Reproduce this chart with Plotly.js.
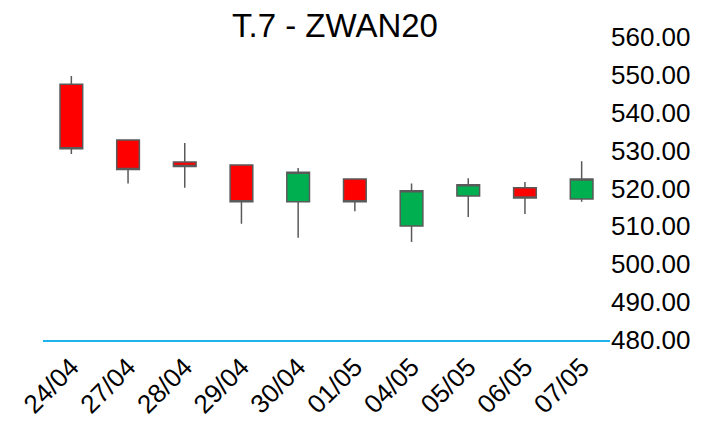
<!DOCTYPE html>
<html>
<head>
<meta charset="utf-8">
<script src="https://cdn.plot.ly/plotly-3.0.1.min.js"></script>
<style>html,body{margin:0;padding:0;background:#fff;}#chart{width:703px;height:422px;}</style>
</head>
<body>
<div id="chart"></div>
<script>
const dates = ["24/04","27/04","28/04","29/04","30/04","01/05","04/05","05/05","06/05","07/05"];
const openVals  = [547.5, 532.8, 527.0, 526.2, 516.5, 522.5, 510.1, 518.0, 520.2, 517.2];
const highVals  = [549.7, 533.0, 532.0, 526.4, 525.4, 522.7, 521.3, 522.7, 521.7, 527.2];
const lowVals   = [529.1, 521.3, 520.2, 510.7, 507.0, 514.0, 505.9, 512.5, 513.3, 516.5];
const closeVals = [530.5, 525.0, 525.8, 516.5, 524.3, 516.5, 519.4, 521.0, 517.5, 522.5];
const yTicks = [480, 490, 500, 510, 520, 530, 540, 550, 560];

const tickFont = {family: "'Liberation Sans', Arial, sans-serif", size: 26, color: "#000"};

const trace = {
  type: "candlestick",
  x: dates, open: openVals, high: highVals, low: lowVals, close: closeVals,
  increasing: {line: {color: "#5a5a5a", width: 1.5}, fillcolor: "#00B050"},
  decreasing: {line: {color: "#5a5a5a", width: 1.5}, fillcolor: "#FF0000"},
  whiskerwidth: 0,
  hoverinfo: "skip",
  showlegend: false
};

const layout = {
  width: 703, height: 422,
  margin: {l: 43, r: 93, t: 37, b: 82},
  paper_bgcolor: "#fff", plot_bgcolor: "#fff",
  boxgap: 0.6, boxgroupgap: 0,
  title: {text: "T.7 - ZWAN20", font: {family: "'Liberation Sans', Arial, sans-serif", size: 33, color: "#000"},
          x: 335/703, xanchor: "center", xref: "container", yref: "container", y: 1 - 25/422, yanchor: "middle"},
  xaxis: {type: "category", rangeslider: {visible: false}, range: [-0.5, 9.5],
          tickangle: -45, tickfont: tickFont, showgrid: false, zeroline: false,
          showline: true, linecolor: "#1EB4F0", linewidth: 1.5, ticks: ""},
  yaxis: {side: "right", range: [480, 560], tickvals: yTicks, ticktext: yTicks.map(v => v.toFixed(2)),
          tickfont: tickFont, showgrid: false, zeroline: false, showline: false, ticks: ""},
  showlegend: false
};

Plotly.newPlot("chart", [trace], layout, {displayModeBar: false, staticPlot: true});
</script>
</body>
</html>
